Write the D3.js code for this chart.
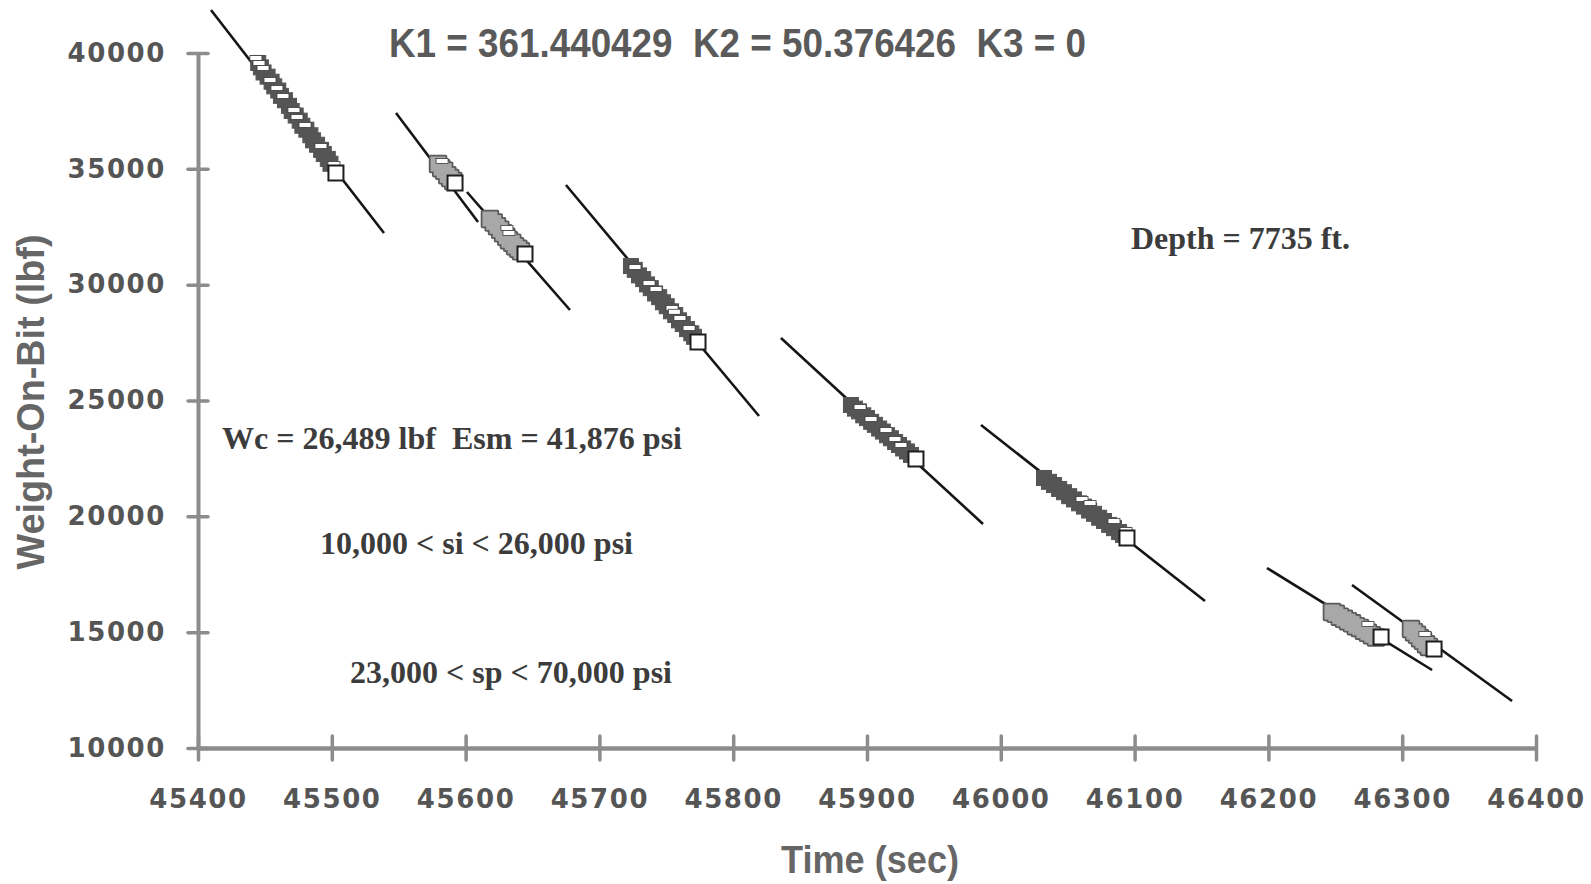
<!DOCTYPE html>
<html>
<head>
<meta charset="utf-8">
<script src="https://cdn.jsdelivr.net/npm/d3@7"></script>
<style>
  html, body { margin: 0; padding: 0; background: #ffffff; }
  svg { display: block; }
  text { white-space: pre; }
</style>
</head>
<body>
<svg id="chart" width="1591" height="884"></svg>
<script>
// Axis ticks
const timeTicks = [45400, 45500, 45600, 45700, 45800, 45900, 46000, 46100, 46200, 46300, 46400];
const wobTicks = [10000, 15000, 20000, 25000, 30000, 35000, 40000];

// Drill-off fit lines: [time start, WOB start, time end, WOB end]
const fitLines = [
  [45409.7, 41856, 45539.0, 32230],
  [45548.0, 37410, 45609.3, 32705],
  [45601.0, 34000, 45678.0, 28906],
  [45675.0, 34302, 45819.3, 24331],
  [45835.7, 27698, 45986.7, 19669],
  [45985.2, 23942, 46152.6, 16345],
  [46198.9, 17770, 46322.3, 13367],
  [46262.5, 17036, 46382.1, 12029]
];

// Measured WOB samples for each drill-off run: [time (sec), WOB (lbf)]
const run1 = [[45445,39570],[45447,39380],[45449,39160],[45452,38980],[45455,38760],[45457,38560],[45460,38380],[45462,38150],[45465,37960],[45468,37720],[45470,37500],[45473,37300],[45476,37080],[45478,36860],[45481,36690],[45484,36450],[45486,36230],[45489,36040],[45492,35820],[45494,35640],[45497,35430],[45499,35220]];
const run2 = [[45579.4,35208],[45581.8,35030],[45584.0,34920],[45586.3,34720],[45588.5,34600],[45590.8,34470]];
const run3 = [[45618.2,32834],[45621.0,32680],[45623.5,32520],[45625.9,32370],[45628.0,32220],[45630.4,32070],[45632.4,31920],[45634.9,31810],[45637.0,31660],[45639.4,31550],[45641.4,31440]];
const run4 = [[45723.6,30806],[45726.4,30640],[45729.6,30400],[45732.7,30240],[45735.6,30010],[45738.4,29850],[45741.6,29620],[45744.7,29460],[45747.5,29240],[45750.3,29070],[45753.5,28850],[45756.7,28690],[45759.5,28460],[45762.3,28300],[45765.5,28080],[45768.7,27900],[45770.7,27750]];
const run5 = [[45888.0,24806],[45891.0,24650],[45894.0,24530],[45897.2,24360],[45900.0,24240],[45903.1,24080],[45905.9,23950],[45909.1,23790],[45911.9,23660],[45915.0,23500],[45917.9,23370],[45921.0,23210],[45923.9,23080],[45927.0,22930],[45929.9,22800],[45932.9,22650]];
const run6 = [[46032.3,21655],[46036.0,21490],[46039.8,21350],[46043.6,21180],[46047.2,21040],[46051.1,20870],[46054.7,20730],[46058.5,20560],[46062.2,20420],[46066.0,20250],[46069.7,20110],[46073.5,19940],[46077.1,19800],[46081.0,19630],[46084.6,19490],[46088.4,19320],[46091.3,19200]];
const run7 = [[46247.5,15870],[46250.4,15790],[46253.4,15670],[46256.5,15575],[46259.5,15475],[46262.5,15380],[46265.4,15260],[46268.4,15185],[46271.4,15065],[46274.4,14970],[46277.4,14870],[46280.4,14775]];
const run8 = [[46306.6,15137],[46308.8,15000],[46311.1,14885],[46313.3,14740],[46315.5,14625],[46317.8,14480],[46320.0,14365]];
const runs = [run1, run2, run3, run4, run5, run6, run7, run8];
const runShade = ["dark", "light", "light", "dark", "dark", "dark", "light", "light"];

// Samples flagged as selected points (hollow markers)
const flagged = [
  [45443.3,39780],[45445.6,39568],[45448.6,39352],[45453.8,38834],[45459.0,38489],[45463.5,38143],[45471.7,37539],[45474.0,37237],[45480.0,36892],[45491.9,35985],[45501.6,35208],
  [45582.4,35337],
  [45630.9,32446],[45632.4,32230],
  [45726.6,30762],[45737.1,30072],[45742.3,29813],[45754.3,28992],[45756.0,28830],[45760.2,28561],[45767.0,28129],
  [45894.8,24719],[45903.0,24201],[45914.2,23726],[45920.9,23338],[45925.4,23079],
  [46060.7,20748],[46066.7,20575],[46084.6,19798],[46093.6,19410],
  [46274.4,15352],
  [46317.0,14921]
];

// Final sample of each run
const lastPoints = [[45503.1,34820],[45592.1,34388],[45644.4,31324],[45773.7,27525],[45936.6,22475],[46094.3,19065],[46284.2,14791],[46323.8,14273]];

// Annotations
const titleText = "K1 = 361.440429  K2 = 50.376426  K3 = 0";
const notes = [
  "Depth = 7735 ft.",
  "Wc = 26,489 lbf  Esm = 41,876 psi",
  "10,000 < si < 26,000 psi",
  "23,000 < sp < 70,000 psi"
];

const svg = d3.select("#chart");
const x = d3.scaleLinear().domain([45400, 46400]).range([198, 1536]);
const y = d3.scaleLinear().domain([10000, 40000]).range([748, 53]);

const axisColor = "#8c8c8c";
const tickFont = "'DejaVu Sans', Verdana, sans-serif";

// Y axis
const gy = svg.append("g").attr("transform", `translate(${x(45400)},0)`)
  .call(d3.axisLeft(y).tickValues(wobTicks).tickSize(10).tickSizeOuter(0).tickPadding(22).tickFormat(d3.format("d")));
gy.select(".domain").attr("stroke", axisColor).attr("stroke-width", 4);
gy.selectAll(".tick line").attr("x1", 10).attr("stroke", axisColor).attr("stroke-width", 3.5);
gy.selectAll(".tick text")
  .attr("fill", "#555").attr("font-family", tickFont).attr("font-weight", "bold")
  .attr("font-size", 26).attr("letter-spacing", "1.6px");

// X axis
const gx = svg.append("g").attr("transform", `translate(0,${y(10000)})`)
  .call(d3.axisBottom(x).tickValues(timeTicks).tickSize(12).tickSizeOuter(0).tickPadding(30).tickFormat(d3.format("d")));
gx.select(".domain").attr("stroke", axisColor).attr("stroke-width", 4.5);
gx.selectAll(".tick line").attr("y1", -12).attr("stroke", axisColor).attr("stroke-width", 3.5);
gx.selectAll(".tick text")
  .attr("fill", "#555").attr("font-family", tickFont).attr("font-weight", "bold")
  .attr("font-size", 26).attr("letter-spacing", "1.6px");
svg.selectAll(".tick line").attr("stroke-linecap", "round");

// Fit lines
svg.append("g").selectAll("line").data(fitLines).join("line")
  .attr("x1", d => x(d[0])).attr("y1", d => y(d[1]))
  .attr("x2", d => x(d[2])).attr("y2", d => y(d[3]))
  .attr("stroke", "#151515").attr("stroke-width", 2.6);

// Sample markers
const ms = 15;
const shadeFill = { dark: "#555555", light: "#a8a8a8" };
runs.forEach((pts, i) => {
  const g = svg.append("g");
  if (runShade[i] === "light") {
    g.append("g").selectAll("rect").data(pts).join("rect")
      .attr("x", d => x(d[0]) - ms / 2).attr("y", d => y(d[1]) - ms / 2)
      .attr("width", ms).attr("height", ms)
      .attr("fill", "#5a5a5a").attr("stroke", "#5a5a5a").attr("stroke-width", 3.5)
      .attr("stroke-linejoin", "round");
  }
  g.append("g").selectAll("rect").data(pts).join("rect")
    .attr("x", d => x(d[0]) - ms / 2).attr("y", d => y(d[1]) - ms / 2)
    .attr("width", ms).attr("height", ms)
    .attr("fill", shadeFill[runShade[i]])
    .attr("stroke", runShade[i] === "dark" ? shadeFill.dark : "none").attr("stroke-width", 1);
});

// Flagged samples
svg.append("g").selectAll("rect").data(flagged).join("rect")
  .attr("x", d => x(d[0]) - 6).attr("y", d => y(d[1]) - 2.5)
  .attr("width", 12).attr("height", 5)
  .attr("fill", "#ffffff").attr("stroke", "#3a3a3a").attr("stroke-width", 0.8);

// Last sample of each run
svg.append("g").selectAll("rect").data(lastPoints).join("rect")
  .attr("x", d => x(d[0]) - 7.5).attr("y", d => y(d[1]) - 7.5)
  .attr("width", 15).attr("height", 15)
  .attr("fill", "#ffffff").attr("stroke", "#1e1e1e").attr("stroke-width", 2);

// Title
svg.append("text")
  .attr("x", 389).attr("y", 57)
  .attr("textLength", 697).attr("lengthAdjust", "spacingAndGlyphs")
  .attr("font-family", "'Liberation Sans', Arial, sans-serif").attr("font-weight", "bold")
  .attr("font-size", 40).attr("fill", "#5a5a5a")
  .text(titleText);

// Axis titles
svg.append("text")
  .attr("transform", "translate(44,402) rotate(-90)")
  .attr("text-anchor", "middle")
  .attr("textLength", 335).attr("lengthAdjust", "spacingAndGlyphs")
  .attr("font-family", "'Liberation Sans', Arial, sans-serif").attr("font-weight", "bold")
  .attr("font-size", 38).attr("fill", "#666666")
  .text("Weight-On-Bit (lbf)");

svg.append("text")
  .attr("x", 870).attr("y", 873)
  .attr("text-anchor", "middle")
  .attr("textLength", 178).attr("lengthAdjust", "spacingAndGlyphs")
  .attr("font-family", "'Liberation Sans', Arial, sans-serif").attr("font-weight", "bold")
  .attr("font-size", 39).attr("fill", "#666666")
  .text("Time (sec)");

// Annotation block
const notePos = [[1131, 249, 219], [222, 449, 460], [320, 554, 313], [350, 683, 322]];
svg.append("g").selectAll("text").data(notes).join("text")
  .attr("x", (d, i) => notePos[i][0]).attr("y", (d, i) => notePos[i][1])
  .attr("textLength", (d, i) => notePos[i][2]).attr("lengthAdjust", "spacingAndGlyphs")
  .attr("font-family", "'Liberation Serif', 'Times New Roman', serif").attr("font-weight", "bold")
  .attr("font-size", 31).attr("fill", "#3c3c3c")
  .text(d => d);
</script>
</body>
</html>
